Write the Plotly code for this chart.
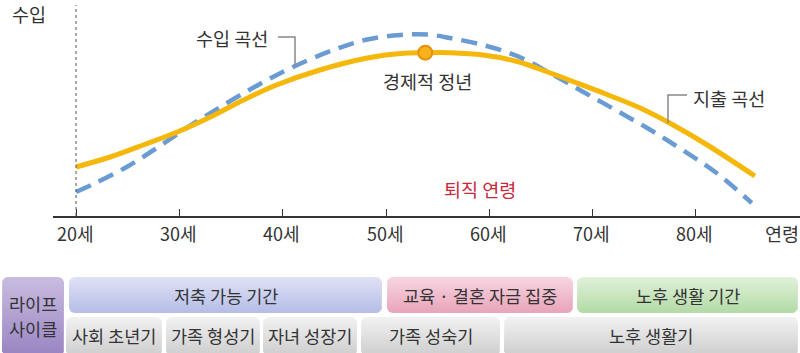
import plotly.graph_objects as go

# ---------------- data ----------------
income_age = [20, 21.7, 24.9, 28.1, 31.3, 34.6, 37.8, 41, 44.9, 48.2, 51.4, 54,
              56.2, 59.4, 62.7, 66.2, 69.1, 72.4, 75.6, 78.7, 82, 85.4]
income_val = [24, 32, 49, 70, 92, 113, 132, 149, 166, 176.5, 181, 181.5,
              178, 171, 160, 141, 124, 105, 86, 66, 43, 13]

spend_age = [20, 23.3, 26.5, 29.8, 33, 36.2, 39.4, 43.6, 48.2, 51.4, 53.8,
             56.2, 59.4, 62.7, 65.9, 68.1, 71.4, 74.6, 77.8, 81.1, 85.7]
spend_val = [49, 59, 71, 84, 99, 116, 131, 146, 158, 162.5, 163.3,
             163.3, 161, 154.5, 143, 134.5, 121.5, 108, 91, 71, 40]

peak_age = [53.8]
peak_val = [163.3]

tick_ages = [20, 30, 40, 50, 60, 70, 80]
tick_labels = ["20세", "30세", "40세", "50세", "60세", "70세", "80세"]

top_labels = ["저축 가능 기간", "교육 · 결혼 자금 집중", "노후 생활 기간"]
bottom_labels = ["사회 초년기", "가족 형성기", "자녀 성장기", "가족 성숙기", "노후 생활기"]
side_labels = ["라이프", "사이클"]

# ---------------- layout constants ----------------
W, H = 800, 353
FONT = "Noto Sans CJK KR"
TXT = "#333333"

top_boxes = [(69, 382), (387, 573), (577, 798)]
top_colors = [("#b6bde6", "#dfe2f6"), ("#e8a4b9", "#f7d6e1"), ("#b2daa6", "#e2f1da")]
bottom_boxes = [(66, 162), (166, 260), (263, 357), (361, 500), (504, 798)]
gray = ("#cdcdcd", "#f2f2f2")
side_box = (2, 64)
side_color = ("#9884c2", "#c9bce0")

fig = go.Figure()

# ---------------- curves ----------------
fig.add_trace(go.Scatter(
    x=income_age, y=income_val, mode="lines",
    line=dict(color="#6a9bd3", width=4.5, dash="16px,9px", shape="spline", smoothing=1.0),
    hoverinfo="skip", showlegend=False))
fig.add_trace(go.Scatter(
    x=spend_age, y=spend_val, mode="lines",
    line=dict(color="#f5b70a", width=5, shape="spline", smoothing=1.0),
    hoverinfo="skip", showlegend=False))
fig.add_trace(go.Scatter(
    x=peak_age, y=peak_val, mode="markers",
    marker=dict(size=14, color="#f7b21c", line=dict(color="#e8900a", width=2)),
    hoverinfo="skip", showlegend=False))


# ---------------- life-cycle boxes (pixel axes) ----------------
def py(ypx):
    return H - ypx


def rrect(x0, y0, x1, y1, r=6, n=6):
    import math
    xs, ys = [], []
    corners = [(x1 - r, y0 + r, -90, 0), (x1 - r, y1 - r, 0, 90),
               (x0 + r, y1 - r, 90, 180), (x0 + r, y0 + r, 180, 270)]
    for cx, cy, a0, a1 in corners:
        for i in range(n + 1):
            a = math.radians(a0 + (a1 - a0) * i / n)
            xs.append(cx + r * math.cos(a))
            ys.append(py(cy + r * math.sin(a)))
    xs.append(xs[0])
    ys.append(ys[0])
    return xs, ys


def add_box(x0, y0, x1, y1, cols):
    xs, ys = rrect(x0, y0, x1, y1)
    fig.add_trace(go.Scatter(
        x=xs, y=ys, mode="lines", fill="toself",
        line=dict(width=0, color="rgba(0,0,0,0)"),
        fillgradient=dict(type="vertical",
                          colorscale=[[0, cols[0]], [1, cols[1]]],
                          start=py(y1), stop=py(y0)),
        xaxis="x2", yaxis="y2", hoverinfo="skip", showlegend=False))


add_box(side_box[0], 277, side_box[1], 356, side_color)
for (x0, x1), cols in zip(top_boxes, top_colors):
    add_box(x0, 277, x1, 313, cols)
for (x0, x1) in bottom_boxes:
    add_box(x0, 317, x1, 356, gray)

BOX_FS = 17.5
annotations = []
for (x0, x1), lab in zip(top_boxes, top_labels):
    annotations.append(dict(x=(x0 + x1) / 2, y=py(295), xref="x2", yref="y2", text=lab,
                            showarrow=False, font=dict(size=BOX_FS, color=TXT, family=FONT)))
for (x0, x1), lab in zip(bottom_boxes, bottom_labels):
    annotations.append(dict(x=(x0 + x1) / 2, y=py(335), xref="x2", yref="y2", text=lab,
                            showarrow=False, font=dict(size=BOX_FS, color=TXT, family=FONT)))
for yy, lab in zip([303, 328], side_labels):
    annotations.append(dict(x=33, y=py(yy), xref="x2", yref="y2", text=lab,
                            showarrow=False, font=dict(size=BOX_FS, color=TXT, family=FONT)))

# chart texts
FS = 18.5
annotations += [
    dict(x=29, y=py(14), xref="x2", yref="y2", text="수입", showarrow=False,
         font=dict(size=FS, color=TXT, family=FONT)),
    dict(x=782, y=py(233), xref="x2", yref="y2", text="연령", showarrow=False,
         font=dict(size=FS, color=TXT, family=FONT)),
    dict(x=232, y=py(38), xref="x2", yref="y2", text="수입 곡선", showarrow=False,
         font=dict(size=FS, color=TXT, family=FONT)),
    dict(x=729, y=py(98), xref="x2", yref="y2", text="지출 곡선", showarrow=False,
         font=dict(size=FS, color=TXT, family=FONT)),
    dict(x=427, y=py(81), xref="x2", yref="y2", text="경제적 정년", showarrow=False,
         font=dict(size=FS, color=TXT, family=FONT)),
    dict(x=480, y=py(189), xref="x2", yref="y2", text="퇴직 연령", showarrow=False,
         font=dict(size=FS, color="#c8283c", family=FONT)),
]
for a, lab in zip(tick_ages, tick_labels):
    annotations.append(dict(x=a, y=0, xref="x", yref="y", text=lab, showarrow=False,
                            xshift=-1, yshift=-17, font=dict(size=18, color=TXT, family=FONT)))

shapes = [
    # dotted vertical line at age 20
    dict(type="line", xref="x", yref="y", x0=20, x1=20, y0=0, y1=211,
         line=dict(color="#555555", width=1, dash="3px,3px")),
    # leader lines
    dict(type="path", xref="x2", yref="y2",
         path=f"M 278 {py(37)} L 295 {py(37)} L 295 {py(66)}",
         line=dict(color="#888888", width=1.5)),
    dict(type="path", xref="x2", yref="y2",
         path=f"M 687 {py(95)} L 668 {py(95)} L 668 {py(123)}",
         line=dict(color="#888888", width=1.5)),
]

fig.update_layout(
    width=W, height=H,
    margin=dict(l=0, r=0, t=0, b=0),
    paper_bgcolor="white", plot_bgcolor="rgba(0,0,0,0)",
    xaxis=dict(domain=[53 / W, 1], range=[17.77, 90.07], showgrid=False, zeroline=False,
               showline=True, linecolor="#333333", linewidth=1.5, anchor="y",
               tickvals=tick_ages, ticks="inside", ticklen=7, tickcolor="#333333",
               tickwidth=1.2, showticklabels=False, fixedrange=True),
    yaxis=dict(domain=[(H - 216) / H, 1], range=[0, 216], showgrid=False, zeroline=False,
               showline=False, showticklabels=False, fixedrange=True, anchor="x"),
    xaxis2=dict(domain=[0, 1], range=[0, W], anchor="y2", visible=False, fixedrange=True),
    yaxis2=dict(domain=[0, 1], range=[0, H], anchor="x2", visible=False, fixedrange=True),
    annotations=annotations, shapes=shapes,
    font=dict(family=FONT),
)

fig.write_html("out.html")
